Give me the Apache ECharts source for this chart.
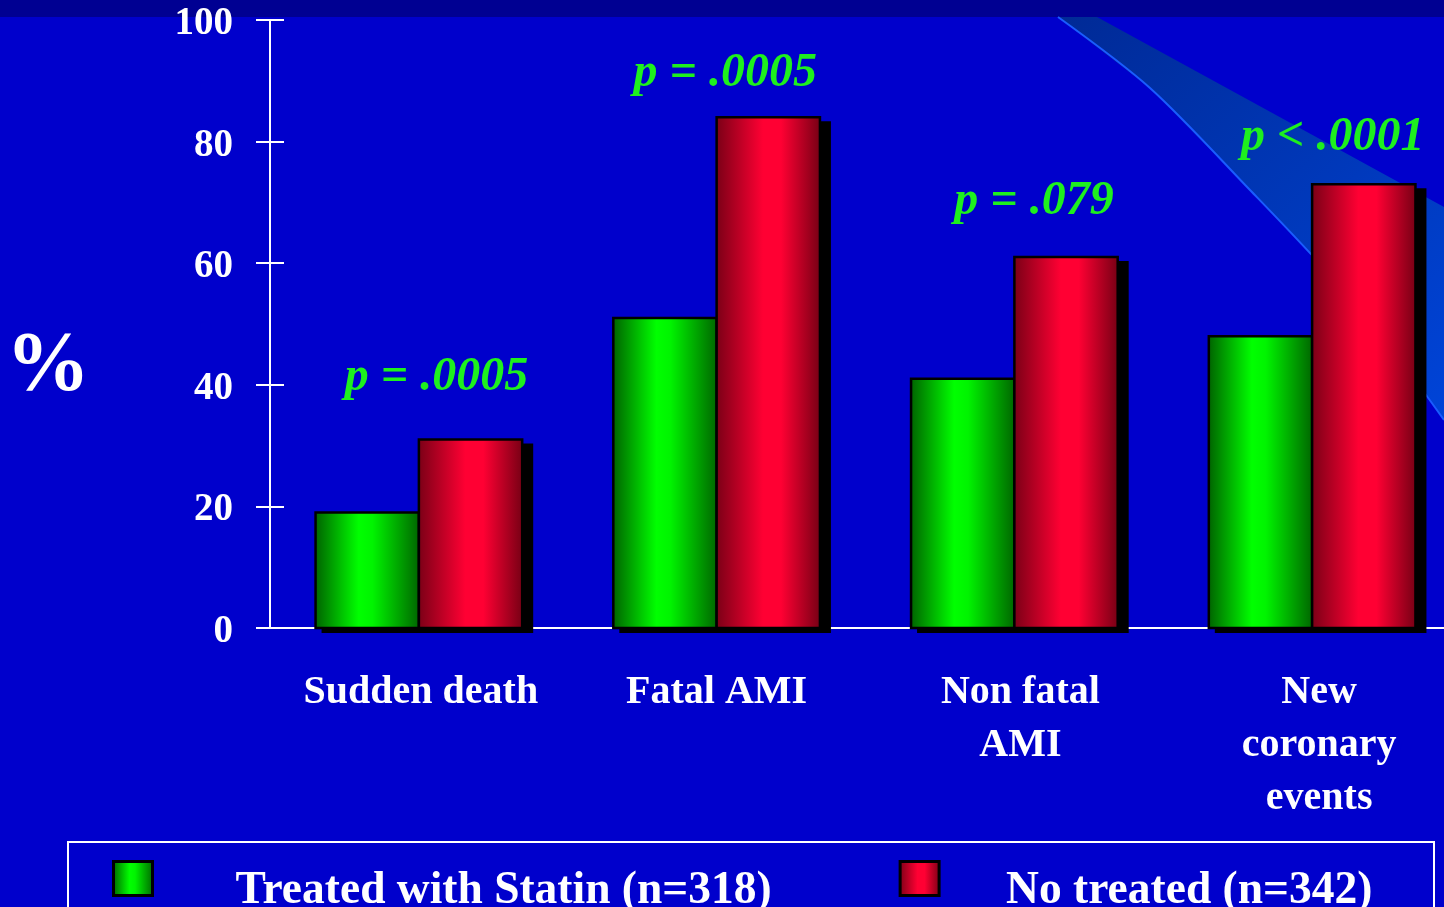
<!DOCTYPE html>
<html>
<head>
<meta charset="utf-8">
<script src="https://cdn.jsdelivr.net/npm/echarts@6/dist/echarts.min.js"></script>
<style>
  html, body { margin: 0; padding: 0; background: #0000cc; }
  #chart { width: 1444px; height: 907px; }
</style>
</head>
<body>
<div id="chart"></div>
<script>
// Event rates (%) by outcome, statin-treated vs untreated patients
const categories = ['Sudden death', 'Fatal AMI', 'Non fatal\nAMI', 'New\ncoronary\nevents'];
const treated = [19, 51, 41, 48];
const untreated = [31, 84, 61, 73];
const pValues = ['p = .0005', 'p = .0005', 'p = .079', 'p < .0001'];
const yTicks = [0, 20, 40, 60, 80, 100];
const seriesNames = ['Treated with Statin (n=318)', 'No treated (n=342)'];

// placement of the p-value captions: [dx from untreated bar centre, height above its top]
const pLabelPlacement = [[-34, 62], [-43, 44], [-32, 56], [-31, 47]];
// small rightward nudge of each category caption, px
const categoryNudge = [2, 0, 6, 7];

const serif = '"Liberation Serif", "Times New Roman", serif';
const BAR_FRACTION = 0.347;   // share of a category band taken by one bar

function hGradient(stops) {
  return { type: 'linear', x: 0, y: 0, x2: 1, y2: 0, colorStops: stops };
}

const greenFill = hGradient([
  { offset: 0, color: '#006000' },
  { offset: 0.42, color: '#00ff00' },
  { offset: 0.55, color: '#00f400' },
  { offset: 1, color: '#006400' }
]);
const redFill = hGradient([
  { offset: 0, color: '#780016' },
  { offset: 0.45, color: '#ff0033' },
  { offset: 0.62, color: '#ff0033' },
  { offset: 1, color: '#740014' }
]);

// a bar with a solid drop shadow; side 0 sits left of the category centre, side 1 right
function barRenderer(side, fill) {
  return function (params, api) {
    const idx = api.value(0);
    const val = api.value(1);
    const top = api.coord([idx, val]);
    const base = api.coord([idx, 0]);
    const band = api.size([1, 0])[0];
    const w = band * BAR_FRACTION;
    const x0 = side === 0 ? top[0] - w : top[0];
    const h = base[1] - top[1];
    const children = [
      {
        type: 'rect',
        shape: { x: x0 + 6, y: top[1] + 4, width: w + 5, height: h + 1 },
        style: { fill: '#000' }
      },
      {
        type: 'rect',
        shape: { x: x0, y: top[1], width: w, height: h },
        style: { fill: fill, stroke: '#000', lineWidth: 2.5 }
      }
    ];
    if (side === 1) {
      const place = pLabelPlacement[params.dataIndex];
      children.push({
        type: 'text',
        z2: 10,
        style: {
          text: pValues[params.dataIndex],
          x: x0 + w / 2 + place[0],
          y: top[1] - place[1],
          textAlign: 'center',
          textVerticalAlign: 'middle',
          font: 'italic bold 48px ' + serif,
          fill: '#1ef01e'
        }
      });
    }
    return { type: 'group', children: children };
  };
}

// legend swatch: a 39x34 box drawn in the upper part of a taller icon cell
const legendIcon = 'path://M0,0L39,0L39,34L0,34Z M0,60L0,60';

// outline of the light sweep across the upper right corner
const sweepEdge = [[1444, 420], [1400, 360], [1330, 275], [1250, 190], [1150, 88], [1058, 17]];

const chart = echarts.init(document.getElementById('chart'), null, { renderer: 'canvas' });

chart.setOption({
  backgroundColor: '#0000cc',
  animation: false,
  graphic: [
    { type: 'rect', z: 0, shape: { x: 0, y: 0, width: 1444, height: 17 }, style: { fill: '#000092' } },
    {
      type: 'polygon', z: 0,
      shape: { points: [[1097, 17], [1444, 207]].concat(sweepEdge), smooth: 0 },
      style: {
        fill: { type: 'linear', x: 0, y: 0, x2: 1, y2: 1, colorStops: [
          { offset: 0, color: '#002a96' },
          { offset: 1, color: '#0044d8' }
        ] }
      }
    },
    {
      type: 'polyline', z: 0,
      shape: { points: sweepEdge, smooth: 0.3 },
      style: { fill: null, stroke: '#1a5cff', lineWidth: 2 }
    },
    {
      type: 'text', z: 5, left: 6, top: 326,
      style: { text: '%', font: 'bold 84px ' + serif, fill: '#fff' }
    },
    {
      type: 'rect', z: 5,
      shape: { x: 68, y: 842, width: 1366, height: 100 },
      style: { fill: null, stroke: '#fff', lineWidth: 2 }
    }
  ],
  grid: {
    left: 270, top: 20, width: 1191, height: 608,
    containLabel: false, outerBoundsMode: 'none'
  },
  legend: {
    left: 107, top: 855,
    itemWidth: 39, itemHeight: 60, itemGap: 127,
    icon: legendIcon,
    data: [
      { name: seriesNames[0], textStyle: { padding: [0, 0, 0, 78] } },
      { name: seriesNames[1], textStyle: { padding: [0, 0, 0, 62] } }
    ],
    itemStyle: { borderColor: '#000', borderWidth: 3 },
    textStyle: {
      color: '#fff', fontFamily: serif, fontWeight: 'bold', fontSize: 45.5
    }
  },
  xAxis: {
    type: 'category',
    data: categories.map((c, i) => ({ value: c, textStyle: { padding: [0, 0, 0, 2 * categoryNudge[i]] } })),
    axisLine: { lineStyle: { color: '#fff', width: 2 } },
    axisTick: { length: 12, lineStyle: { color: '#fff', width: 2 } },
    axisLabel: {
      interval: 0,
      color: '#fff', fontFamily: serif, fontWeight: 'bold', fontSize: 40,
      lineHeight: 53, margin: 38
    }
  },
  yAxis: [
    {
      type: 'value', min: 0, max: 100, interval: 20,
      axisLine: { show: true, lineStyle: { color: '#fff', width: 2 } },
      axisTick: { show: true, length: 14, lineStyle: { color: '#fff', width: 2 } },
      splitLine: { show: false },
      axisLabel: {
        color: '#fff', fontFamily: serif, fontWeight: 'bold', fontSize: 39, margin: 37,
        verticalAlign: 'top', lineHeight: 8,
        formatter: (v) => (yTicks.includes(v) ? String(v) : '')
      }
    },
    {
      // inner half of the crossing tick marks
      type: 'value', min: 0, max: 100, interval: 20, position: 'left',
      axisLine: { show: false },
      axisTick: { show: true, inside: true, length: 14, lineStyle: { color: '#fff', width: 2 } },
      splitLine: { show: false },
      axisLabel: { show: false }
    }
  ],
  series: [
    {
      name: seriesNames[0],
      type: 'custom',
      renderItem: barRenderer(0, greenFill),
      itemStyle: { color: greenFill, borderColor: '#000', borderWidth: 3 },
      encode: { x: 0, y: 1 },
      data: treated.map((v, i) => [i, v])
    },
    {
      name: seriesNames[1],
      type: 'custom',
      renderItem: barRenderer(1, redFill),
      itemStyle: { color: redFill, borderColor: '#000', borderWidth: 3 },
      encode: { x: 0, y: 1 },
      data: untreated.map((v, i) => [i, v])
    }
  ]
});
</script>
</body>
</html>
